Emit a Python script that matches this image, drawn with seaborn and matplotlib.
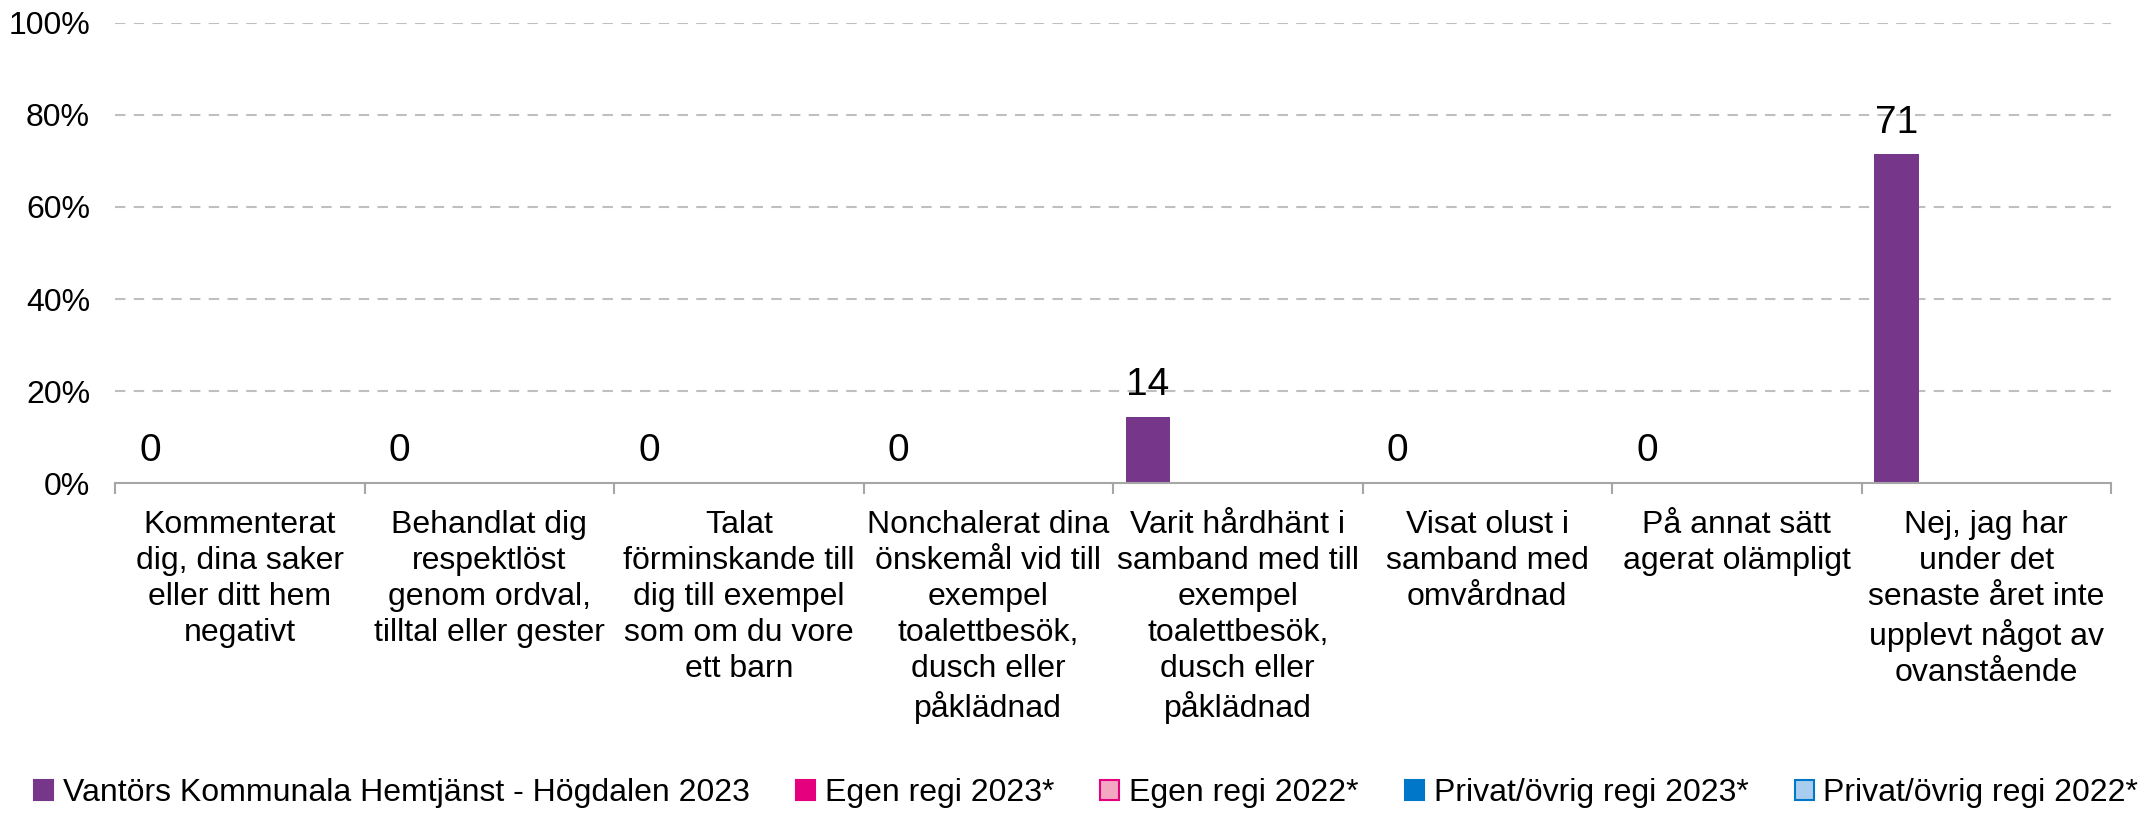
import matplotlib
matplotlib.use("Agg")
import matplotlib.pyplot as plt
import seaborn as sns
import pandas as pd
import numpy as np
from matplotlib.patches import Patch
from matplotlib.ticker import FuncFormatter

categories = [
    "Kommenterat\ndig, dina saker\neller ditt hem\nnegativt",
    "Behandlat dig\nrespektlöst\ngenom ordval,\ntilltal eller gester",
    "Talat\nförminskande till\ndig till exempel\nsom om du vore\nett barn",
    "Nonchalerat dina\nönskemål vid till\nexempel\ntoalettbesök,\ndusch eller\npåklädnad",
    "Varit hårdhänt i\nsamband med till\nexempel\ntoalettbesök,\ndusch eller\npåklädnad",
    "Visat olust i\nsamband med\nomvårdnad",
    "På annat sätt\nagerat olämpligt",
    "Nej, jag har\nunder det\nsenaste året inte\nupplevt något av\novanstående",
]
series_names = [
    "Vantörs Kommunala Hemtjänst - Högdalen 2023",
    "Egen regi 2023*",
    "Egen regi 2022*",
    "Privat/övrig regi 2023*",
    "Privat/övrig regi 2022*",
]
vantors_2023 = [0, 0, 0, 0, 14.3, 0, 0, 71.4]
egen_2023 = [np.nan] * 8
egen_2022 = [np.nan] * 8
privat_2023 = [np.nan] * 8
privat_2022 = [np.nan] * 8
value_labels = ["0", "0", "0", "0", "14", "0", "0", "71"]
y_ticks = [0, 20, 40, 60, 80, 100]

face_colors = ["#76378A", "#E5007D", "#F4A7C2", "#0077C8", "#A9CDEE"]
edge_colors = ["#76378A", "#E5007D", "#E5007D", "#0077C8", "#0077C8"]

all_series = [vantors_2023, egen_2023, egen_2022, privat_2023, privat_2022]
rows = []
for name, vals in zip(series_names, all_series):
    for c, v in zip(categories, vals):
        rows.append({"category": c, "series": name, "value": v})
df = pd.DataFrame(rows)

plt.rcParams["font.family"] = ["Liberation Sans", "DejaVu Sans"]
fig = plt.figure(figsize=(21.38, 8.26), dpi=100)
ax = fig.add_axes([0.0538, 0.415, 0.9336, 0.5575])

sns.barplot(data=df, x="category", y="value", hue="series",
            order=categories, hue_order=series_names,
            palette=dict(zip(series_names, face_colors)),
            width=0.9, gap=0, errorbar=None, legend=False, ax=ax,
            saturation=1)

cont = ax.containers[0]
ax.bar_label(cont, labels=value_labels, padding=10, fontsize=28, color="black")

ax.set_ylim(0, 100)
ax.set_xlim(-0.5, len(categories) - 0.5)
ax.set_yticks(y_ticks)
ax.yaxis.set_major_formatter(FuncFormatter(lambda v, p: f"{int(v)}%"))
ax.tick_params(axis="y", length=0, labelsize=23, pad=18)
ax.set_xlabel("")
ax.set_ylabel("")

ax.set_xticks(range(len(categories)))
ax.set_xticklabels(categories, fontsize=23, linespacing=1.27, va="top")
ax.tick_params(axis="x", which="major", length=0, pad=19)
ax.set_xticks(np.arange(-0.5, len(categories), 1.0), minor=True)
ax.tick_params(axis="x", which="minor", length=8, color="#A6A6A6", width=1.5)

for y in y_ticks[1:]:
    ax.axhline(y, color="#BFBFBF", linestyle=(0, (5, 4)), linewidth=1.5, zorder=0)

for s in ["top", "right", "left"]:
    ax.spines[s].set_visible(False)
ax.spines["bottom"].set_color("#A6A6A6")
ax.spines["bottom"].set_linewidth(1.5)
ax.set_axisbelow(True)

handles = [Patch(facecolor=fc, edgecolor=ec, linewidth=1.5) for fc, ec in zip(face_colors, edge_colors)]
fig.legend(handles, series_names, loc="center", bbox_to_anchor=(0.508, 0.04),
           ncol=5, frameon=False, fontsize=23, handlelength=0.6, handleheight=0.6,
           handletextpad=0.3, columnspacing=1.45, borderaxespad=0, borderpad=0)

fig.savefig("out.png", dpi=100, facecolor="white")
